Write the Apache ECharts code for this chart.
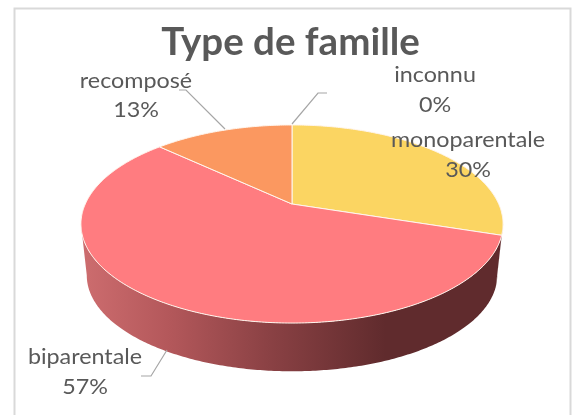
<!DOCTYPE html>
<html><head><meta charset="utf-8">
<style>html,body{margin:0;padding:0;background:#fff}#c{width:572px;height:415px}</style>
<script src="https://cdn.jsdelivr.net/npm/echarts@6/dist/echarts.min.js"></script>
</head><body><div id="c"></div>
<script>
const categories = ['monoparentale', 'biparentale', 'recomposé', 'inconnu'];
const values = [30, 57, 13, 0];
const topColors = ['#FBD562', '#FF7C80', '#FB9860', '#A5A5A5'];
const sideStops = [[0, '#CC6C6E'], [0.2, '#B4585B'], [0.45, '#8A4144'], [0.73, '#602B2D'], [1, '#602B2D']];

// layout of the labels and leader lines (pixel placement, not data)
const labelLayout = [
  { x: 468, y1: 140, y2: 170, line: null },
  { x: 85, y1: 357, y2: 387, line: [[167, 350], [151, 376], [141, 376]] },
  { x: 136, y1: 81, y2: 110, line: [[225, 129], [186, 90], [179, 90]] },
  { x: 435, y1: 75, y2: 105, line: [[292, 124], [318, 93], [327, 93]] }
];
// perspective disc: apex position, half axes, foreshortening
const topDisc = { cx: 292, cy: 204, a: 206.7, b: 95, p: 0.202 };
const baseDisc = { cx: 292, cy: 256, a: 201, b: 92, p: 0.202 };
const TANGENT = Math.PI / 2 + Math.asin(topDisc.p);

const total = values.reduce((s, v) => s + v, 0);
function sliceRange(i) {
  let s = 0;
  for (let k = 0; k < i; k++) s += values[k];
  return [s / total * 2 * Math.PI, (s + values[i]) / total * 2 * Math.PI];
}
function project(d, t) {
  const u = Math.sin(t), v = Math.cos(t), w = 1 + d.p * v;
  return [d.cx + d.a * u / w, d.cy - d.b * v / w];
}
function arc(d, t0, t1) {
  const n = Math.max(2, Math.ceil(Math.abs(t1 - t0) * 90)), pts = [];
  for (let i = 0; i <= n; i++) pts.push(project(d, t0 + (t1 - t0) * i / n));
  return pts;
}
const sideFill = new echarts.graphic.LinearGradient(85, 0, 497, 0,
  sideStops.map(s => ({ offset: s[0], color: s[1] })), true);

function renderSide(params) {
  const r = sliceRange(params.dataIndex);
  const t0 = Math.max(r[0], TANGENT), t1 = Math.min(r[1], 2 * Math.PI - TANGENT);
  if (t1 <= t0) return { type: 'group', children: [] };
  return {
    type: 'polygon',
    shape: { points: arc(topDisc, t0, t1).concat(arc(baseDisc, t1, t0)) },
    style: { fill: sideFill, stroke: null }
  };
}
function renderTop(params) {
  const i = params.dataIndex, r = sliceRange(i);
  if (r[1] <= r[0]) return { type: 'group', children: [] };
  return {
    type: 'polygon',
    shape: { points: [[topDisc.cx, topDisc.cy]].concat(arc(topDisc, r[0], r[1])) },
    style: { fill: topColors[i], stroke: '#FFF6EE', lineWidth: 1, lineJoin: 'round' }
  };
}
function labelText(text, x, y) {
  return {
    type: 'text', x: x, y: y, scaleX: 1.11,
    style: { text: text, x: 0, y: 0, align: 'center', verticalAlign: 'middle', font: '21px Lato, "Noto Sans", sans-serif', fill: '#595959' }
  };
}
function renderLabel(params) {
  const i = params.dataIndex, l = labelLayout[i], kids = [];
  if (l.line) kids.push({
    type: 'polyline', shape: { points: l.line },
    style: { fill: null, stroke: '#A6A6A6', lineWidth: 1.2 }
  });
  kids.push(labelText(categories[i], l.x, l.y1));
  kids.push(labelText(Math.round(values[i] / total * 100) + '%', l.x, l.y2));
  return { type: 'group', children: kids };
}
const chart = echarts.init(document.getElementById('c'), null, { renderer: 'canvas' });
chart.setOption({
  animation: false,
  backgroundColor: '#fff',
  title: {
    text: 'Type de famille', left: 285.5, top: 38, textAlign: 'center', textVerticalAlign: 'middle',
    textStyle: { fontFamily: 'Lato, "Noto Sans", sans-serif', fontWeight: 'bold', fontSize: 38.5, color: '#595959' }
  },
  graphic: [{ type: 'rect', silent: true, z: -1, shape: { x: 14.5, y: 8.5, width: 556, height: 420 }, style: { fill: '#fff', stroke: '#D9D9D9', lineWidth: 2 } }],
  series: [
    { type: 'custom', coordinateSystem: 'none', renderItem: renderSide, data: values, silent: true, z: 2 },
    { type: 'custom', coordinateSystem: 'none', renderItem: renderTop, data: values, silent: true, z: 3 },
    { type: 'custom', coordinateSystem: 'none', renderItem: renderLabel, data: values, silent: true, z: 4 }
  ]
});
</script></body></html>
